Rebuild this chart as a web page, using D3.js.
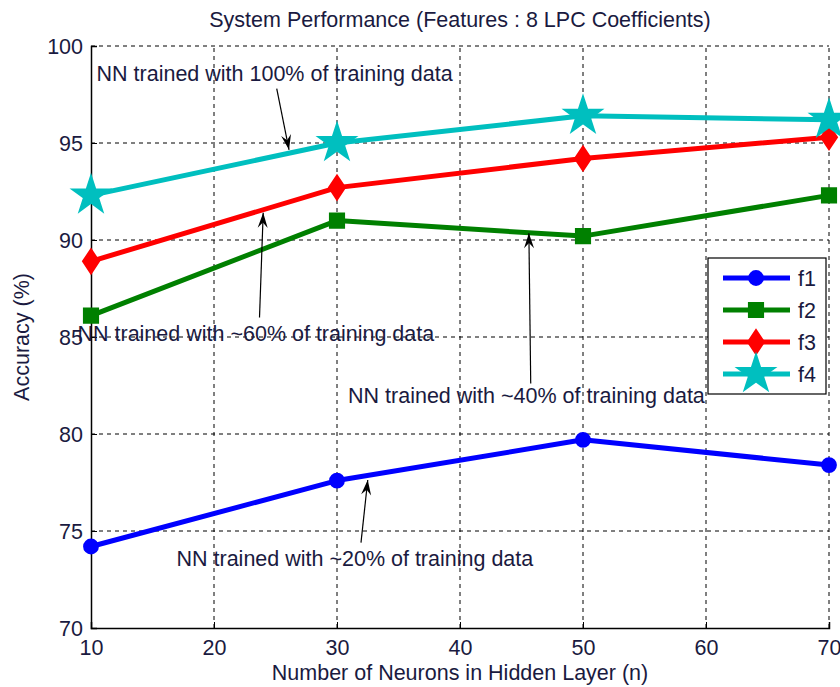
<!DOCTYPE html>
<html>
<head>
<meta charset="utf-8">
<script src="https://cdn.jsdelivr.net/npm/d3@7"></script>
<style>
  body { margin: 0; background: #fff; }
  svg { display: block; font-family: "Liberation Sans", Arial, sans-serif; }
</style>
</head>
<body>
<svg id="chart" width="840" height="687"></svg>
<script>
// Hidden-layer sizes tested
const neurons = [10, 30, 50, 70];
// Accuracy (%) for each training-data fraction
const f1 = [74.2, 77.6, 79.7, 78.4];
const f2 = [86.1, 91.0, 90.2, 92.3];
const f3 = [88.9, 92.7, 94.2, 95.3];
const f4 = [92.3, 95.0, 96.4, 96.2];
const seriesNames = ["f1", "f2", "f3", "f4"];
const xTicks = [10, 20, 30, 40, 50, 60, 70];
const yTicks = [70, 75, 80, 85, 90, 95, 100];

const title = "System Performance (Features : 8 LPC Coefficients)";
const xLabel = "Number of Neurons in Hidden Layer (n)";
const yLabel = "Accuracy (%)";

const series = [
  { name: "f1", values: f1, color: "#0000ff", marker: "circle" },
  { name: "f2", values: f2, color: "#008000", marker: "square" },
  { name: "f3", values: f3, color: "#ff0000", marker: "diamond" },
  { name: "f4", values: f4, color: "#00bfbf", marker: "star" }
];

// Annotations: text anchor and arrow tail/head, all in data units
const notes = [
  { text: "NN trained with 100% of training data", at: [10.45, 98.6], from: [25.1, 97.8], to: [26.1, 94.65] },
  { text: "NN trained with ~60% of training data", at: [8.9, 85.2], from: [23.7, 86.0], to: [24.0, 91.4] },
  { text: "NN trained with ~40% of training data", at: [30.9, 82.0], from: [45.75, 82.6], to: [45.6, 90.35] },
  { text: "NN trained with ~20% of training data", at: [16.95, 73.6], from: [31.95, 74.4], to: [32.5, 77.63] }
];

const svg = d3.select("#chart");
const L = 91, R = 829, T = 46, B = 628;
const FS = 21.5;
const TXT = "#1a1a40";

const x = d3.scaleLinear().domain([10, 70]).range([L, R]);
const y = d3.scaleLinear().domain([70, 100]).range([B, T]);

// Dashed grid
const grid = svg.append("g").attr("stroke", "#000").attr("stroke-width", 1)
  .attr("stroke-dasharray", "4,4");
grid.selectAll("line.gx").data(xTicks.slice(1)).join("line")
  .attr("x1", d => x(d)).attr("x2", d => x(d)).attr("y1", B).attr("y2", T);
grid.selectAll("line.gy").data(yTicks.slice(1)).join("line")
  .attr("y1", d => y(d)).attr("y2", d => y(d)).attr("x1", L).attr("x2", R);

// Axes (left and bottom, ticks inward)
const xAxis = d3.axisBottom(x).tickValues(xTicks).tickSize(-6).tickPadding(12).tickFormat(d3.format("d"));
const yAxis = d3.axisLeft(y).tickValues(yTicks).tickSize(-6).tickPadding(8).tickFormat(d3.format("d"));
const gx = svg.append("g").attr("transform", `translate(0,${B})`).call(xAxis);
const gy = svg.append("g").attr("transform", `translate(${L},0)`).call(yAxis);
[gx, gy].forEach(g => {
  g.select(".domain").attr("stroke", "#000").attr("stroke-width", 1.5);
  g.selectAll(".tick line").attr("stroke", "#000");
  g.selectAll(".tick text").attr("font-size", FS).attr("fill", TXT)
    .attr("font-family", "'Liberation Sans', Arial, sans-serif");
});
gy.selectAll(".tick text").attr("dy", "0.36em");

// Marker shapes
function markerPath(type) {
  if (type === "circle") return d3.symbol().type(d3.symbolCircle).size(150)();
  if (type === "square") return d3.symbol().type(d3.symbolSquare).size(200)();
  if (type === "diamond") return "M0,-12L8,0L0,12L-8,0Z";
  return d3.symbol().type(d3.symbolStar).size(420)();
}

const line = d3.line().x((d, i) => x(neurons[i])).y(d => y(d));
series.forEach(s => {
  const g = svg.append("g");
  g.append("path").datum(s.values).attr("d", line)
    .attr("fill", "none").attr("stroke", s.color).attr("stroke-width", 5)
    .attr("stroke-linejoin", "round");
  g.selectAll("path.m").data(s.values).join("path").attr("class", "m")
    .attr("d", markerPath(s.marker))
    .attr("transform", (d, i) => `translate(${x(neurons[i])},${y(d)})`)
    .attr("fill", s.color).attr("stroke", s.color).attr("stroke-width", 2);
});

// Annotation text and arrows
const ann = svg.append("g");
notes.forEach(n => {
  ann.append("text").attr("x", x(n.at[0])).attr("y", y(n.at[1]))
    .attr("font-size", FS).attr("fill", TXT).attr("dy", "0.35em").text(n.text);
  const x1 = x(n.from[0]), y1 = y(n.from[1]), x2 = x(n.to[0]), y2 = y(n.to[1]);
  ann.append("line").attr("x1", x1).attr("y1", y1).attr("x2", x2).attr("y2", y2)
    .attr("stroke", "#000").attr("stroke-width", 1.2);
  const a = Math.atan2(y2 - y1, x2 - x1), len = 15, w = 5;
  const bx = x2 - len * Math.cos(a), by = y2 - len * Math.sin(a);
  const px = -Math.sin(a) * w, py = Math.cos(a) * w;
  ann.append("path")
    .attr("d", `M${x2},${y2}L${bx + px},${by + py}L${x2 - 0.65 * len * Math.cos(a)},${y2 - 0.65 * len * Math.sin(a)}L${bx - px},${by - py}Z`)
    .attr("fill", "#000");
});

// Legend
const lg = svg.append("g").attr("transform", "translate(708,258)");
lg.append("rect").attr("width", 118).attr("height", 136)
  .attr("fill", "#fff").attr("stroke", "#000").attr("stroke-width", 1.2);
series.forEach((s, i) => {
  const cy = 20 + i * 32;
  lg.append("line").attr("x1", 15).attr("x2", 82).attr("y1", cy).attr("y2", cy)
    .attr("stroke", s.color).attr("stroke-width", 5);
  lg.append("path").attr("d", markerPath(s.marker))
    .attr("transform", `translate(48,${cy})`)
    .attr("fill", s.color).attr("stroke", s.color).attr("stroke-width", 2);
  lg.append("text").attr("x", 90).attr("y", cy).attr("dy", "0.35em")
    .attr("font-size", FS).attr("fill", TXT).text(seriesNames[i]);
});

// Titles
svg.append("text").attr("x", (L + R) / 2).attr("y", 27).attr("text-anchor", "middle")
  .attr("font-size", FS).attr("fill", TXT).text(title);
svg.append("text").attr("x", (L + R) / 2).attr("y", 680).attr("text-anchor", "middle")
  .attr("font-size", FS).attr("fill", TXT).text(xLabel);
svg.append("text").attr("transform", `translate(29,${(T + B) / 2}) rotate(-90)`)
  .attr("text-anchor", "middle").attr("font-size", FS).attr("fill", TXT).text(yLabel);
</script>
</body>
</html>
